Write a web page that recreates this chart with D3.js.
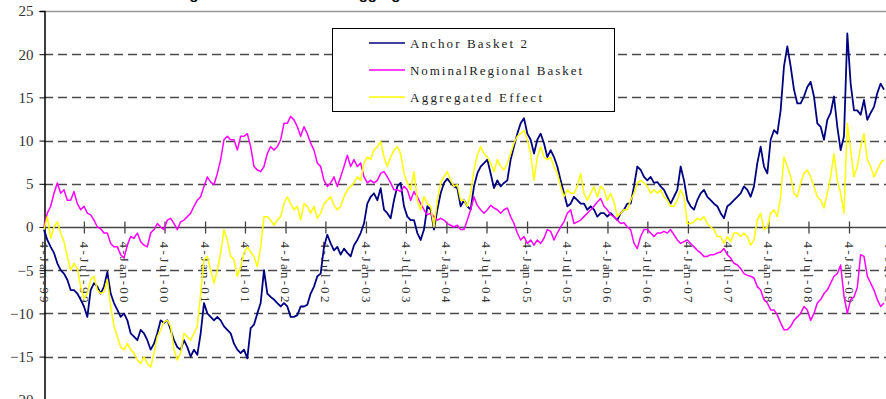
<!DOCTYPE html>
<html>
<head>
<meta charset="utf-8">
<script src="https://cdn.jsdelivr.net/npm/d3@7"></script>
<style>
  body { margin: 0; background: #fff; }
  svg { display: block; }
</style>
</head>
<body>
<div id="chart"></div>
<script>
// sizes of the page and the plot area
var svgWidth = 886;
var svgHeight = 399;
var margin = { top: 11, left: 44 };

// series, one reading every ~15 days from 4-Jan-99
var startDate = Date.UTC(1999, 0, 4);
var sampleDays = 15.126;

var anchorBasket = [
  -0.3,-1.5,-2.3,-3.0,-4.2,-5.0,-5.4,-6.1,-7.3,-7.3,-7.7,-8.4,-9.2,-10.4,-7.3,-6.5,-6.9,-7.7,-6.9,-5.2,-7.7,-8.8,-9.6,-10.4,-10.0,-10.8,-12.3,-12.7,-13.1,-11.9,-12.3,-13.1,-14.2,-13.5,-12.3,-10.8,-11.1,-10.8,-11.9,-13.1,-13.9,-14.2,
  -13.1,-13.9,-15.0,-14.2,-14.8,-12.3,-8.8,-10.0,-10.4,-10.8,-10.4,-10.8,-11.5,-11.9,-12.3,-13.5,-14.2,-14.6,-14.2,-15.2,-11.7,-11.3,-10.0,-8.8,-5.0,-7.7,-8.1,-8.4,-8.8,-9.2,-8.8,-9.2,-10.4,-10.4,-10.2,-9.2,-9.2,-9.0,-7.7,-6.9,-5.7,-5.4,
  -2.3,-0.9,-1.9,-2.7,-2.3,-3.2,-2.5,-3.0,-3.4,-2.1,-1.5,-0.7,0.4,2.7,3.5,3.9,3.1,4.5,2.0,1.6,1.0,3.1,4.7,5.1,2.4,1.2,0.8,0.8,-0.7,-1.5,-0.3,2.4,2.0,-0.3,2.0,3.9,5.1,5.6,5.1,4.7,4.5,2.4,
  3.1,2.4,2.0,4.7,6.2,7.0,7.4,7.8,6.2,4.5,5.4,4.7,5.1,5.4,7.8,9.3,10.8,12.0,12.6,10.8,10.1,8.5,10.1,10.8,9.7,8.1,8.9,8.1,7.0,5.4,3.9,2.4,2.7,3.5,3.1,2.7,2.7,2.0,2.4,2.0,1.2,1.6,
  1.6,1.2,1.6,1.2,0.8,1.6,2.0,2.7,2.7,4.7,7.0,6.6,5.8,5.4,5.8,5.1,5.2,4.7,4.3,3.5,2.7,3.5,4.3,7.0,5.4,3.1,2.4,2.0,3.1,3.9,4.3,3.5,3.1,2.7,2.4,1.6,1.0,2.4,2.7,3.1,3.5,3.9,
  4.7,4.3,3.5,4.7,7.4,9.3,7.0,6.2,10.1,11.2,10.8,13.5,18.6,20.9,18.6,15.9,14.3,14.3,15.1,16.2,16.8,15.1,12.0,11.6,10.1,12.4,13.2,15.1,11.6,8.9,10.5,22.4,16.6,13.5,13.5,13.0,14.7,12.4,13.2,13.9,15.5,16.6,15.9
];

var nominalBasket = [
  0.0,1.6,2.4,3.9,5.1,3.9,4.3,3.1,3.1,4.1,2.7,2.0,2.4,1.6,1.4,0.8,0.0,-0.2,-0.7,-0.7,-1.9,-2.3,-2.3,-3.2,-3.6,-2.1,-1.1,-1.3,-0.7,-1.7,-2.1,-2.3,-0.7,-0.3,0.4,0.0,-0.3,0.8,1.0,0.4,-0.3,0.6,
  0.8,1.2,1.6,2.4,3.1,3.5,4.7,5.8,5.2,4.9,6.2,7.8,10.1,10.5,10.1,10.1,8.9,10.5,10.5,10.8,9.3,7.0,6.6,6.4,7.0,8.5,9.3,8.9,9.3,10.1,12.0,12.0,12.8,12.4,11.6,10.5,11.6,10.8,9.7,8.9,7.4,7.0,
  5.4,4.7,5.1,5.8,4.7,5.8,7.0,8.3,7.0,7.8,7.0,7.4,5.8,5.1,5.4,5.1,5.4,6.2,6.4,5.8,5.1,4.3,4.3,4.1,4.7,4.3,3.1,4.1,3.5,2.7,2.0,1.4,1.6,1.2,0.8,1.0,0.8,0.4,0.2,0.0,0.2,-0.3,
  -0.3,0.8,2.0,3.5,2.5,2.0,1.6,2.0,2.5,2.2,2.0,1.6,2.0,2.2,1.2,0.4,-0.7,-1.5,-1.1,-1.9,-1.5,-2.1,-1.5,-1.9,-1.3,-0.3,-0.5,-1.5,-0.7,0.0,0.6,1.6,2.0,0.4,0.6,0.8,1.2,1.6,2.0,2.4,2.9,3.3,
  2.4,2.0,1.4,1.2,0.8,0.4,0.5,0.0,-0.3,-1.9,-2.5,-1.1,-0.3,-0.3,-0.7,-1.1,-0.7,-0.7,-0.5,-0.7,-0.3,-0.9,-1.5,-1.9,-1.7,-1.5,-1.9,-2.3,-2.7,-3.0,-3.4,-3.4,-3.2,-3.2,-3.0,-2.9,-2.5,-3.2,-3.6,-4.2,-4.4,-4.8,
  -5.4,-5.6,-5.7,-5.9,-6.9,-7.3,-8.4,-8.8,-9.6,-9.6,-10.2,-11.1,-11.9,-11.9,-11.5,-10.8,-10.4,-10.0,-9.2,-9.6,-10.8,-10.0,-8.8,-8.4,-7.7,-7.3,-6.5,-5.7,-5.4,-4.4,-8.0,-10.0,-8.4,-8.1,-7.0,-3.2,-3.4,-5.7,-6.5,-7.3,-8.4,-9.2,-8.8
];

var aggregatedEffect = [
  -0.3,1.2,-1.3,0.0,0.6,-0.7,-1.7,-3.4,-5.0,-4.2,-4.8,-6.9,-8.3,-7.7,-6.1,-5.7,-7.3,-7.7,-7.5,-6.1,-9.2,-11.5,-12.7,-13.9,-14.2,-13.5,-14.2,-14.6,-15.4,-15.8,-15.0,-15.8,-16.2,-14.6,-12.7,-11.9,-11.0,-10.8,-11.5,-14.2,-15.4,-14.6,
  -12.3,-12.7,-13.1,-12.3,-11.5,-7.7,-3.8,-3.4,-5.0,-6.5,-5.0,-3.0,-0.3,-1.5,-3.4,-3.8,-5.7,-4.6,-3.0,-2.3,-2.9,-3.4,-4.6,-2.3,1.2,1.2,0.8,0.2,0.8,1.2,2.7,3.5,2.7,2.0,2.4,0.8,2.7,2.4,1.6,2.4,1.0,1.6,
  2.7,3.1,3.5,2.5,2.0,2.4,3.5,4.3,4.7,5.1,5.8,5.4,7.4,8.1,7.8,8.9,9.3,9.9,8.1,7.0,8.1,8.9,9.3,8.5,6.2,5.1,4.3,6.4,3.1,2.0,3.5,2.7,2.4,0.0,3.1,5.1,5.8,6.4,5.4,4.7,4.9,3.1,
  3.1,2.4,3.9,6.6,8.3,9.3,8.5,8.1,7.4,6.4,7.8,7.0,6.6,7.4,8.5,9.7,10.5,10.8,11.2,10.1,8.5,5.4,8.1,9.3,8.1,7.8,8.1,7.0,6.2,4.7,3.5,4.3,3.9,3.9,4.7,6.2,3.9,3.1,3.9,4.7,3.5,4.7,
  4.3,3.1,3.9,2.9,1.2,1.6,2.0,2.0,3.1,3.9,5.1,5.4,5.1,4.7,3.9,4.3,3.9,4.3,3.5,3.1,2.4,2.4,3.1,4.3,3.5,0.4,0.4,0.6,1.0,0.8,1.2,0.4,0.0,-0.3,-1.1,-1.1,-1.9,-1.1,-1.7,-0.7,-0.7,-1.1,
  -0.7,-1.1,-2.1,-1.5,0.8,1.6,-0.3,0.0,1.6,2.0,1.2,3.5,8.1,7.0,5.8,3.9,3.5,5.1,6.2,6.6,5.8,4.7,3.5,3.1,2.2,3.9,5.8,8.5,5.4,3.9,1.6,12.0,8.9,5.8,7.0,9.3,10.8,7.8,7.0,5.8,6.6,7.4,7.8
];

var seriesNames = ["Anchor Basket 2", "NominalRegional Basket", "Aggregated Effect"];
var seriesColors = ["#000080", "#ff00ff", "#ffff00"];
var seriesValues = [anchorBasket, nominalBasket, aggregatedEffect];

var yTicks = [25, 20, 15, 10, 5, 0, -5, -10, -15, -20];
var tickYears = d3.range(1999, 2010);

// the dates each reading belongs to
var sampleDates = anchorBasket.map(function(d, i) {
  return new Date(startDate + i * sampleDays * 864e5);
});

// x tick dates: 4 Jan and 4 Jul of every year
var tickDates = [];
tickYears.forEach(function(y) {
  tickDates.push(new Date(Date.UTC(y, 0, 4)));
  tickDates.push(new Date(Date.UTC(y, 6, 4)));
});

var svg = d3.select("#chart")
  .append("svg")
  .attr("width", svgWidth)
  .attr("height", svgHeight);

// scales
var xScale = d3.scaleUtc()
  .domain([new Date(Date.UTC(1999, 0, 4)), new Date(Date.UTC(2009, 0, 4))])
  .range([margin.left, 849]);

var yScale = d3.scaleLinear()
  .domain([-20, 25])
  .range([399.8, margin.top]);

// title, only its lower edge is inside the picture
svg.append("text")
  .attr("x", 170)
  .attr("y", -1)
  .attr("text-anchor", "start")
  .style("font-family", "Liberation Sans, Arial, sans-serif")
  .style("font-weight", "bold")
  .style("font-size", "15px")
  .text("Regional Basket and the Aggregated Effect");

// gridlines
var grid = svg.append("g");
yTicks.forEach(function(v) {
  if (v === 0) return;
  var solid = (v === 25 || v === -20);
  grid.append("line")
    .attr("x1", margin.left)
    .attr("x2", svgWidth)
    .attr("y1", Math.round(yScale(v)) + 0.5)
    .attr("y2", Math.round(yScale(v)) + 0.5)
    .attr("stroke", solid ? "#9a9a9a" : "#4a4a4a")
    .attr("stroke-width", 1.3)
    .attr("stroke-dasharray", solid ? null : "9,5");
});

// y axis with labels
var leftAxis = d3.axisLeft(yScale)
  .tickValues(yTicks)
  .tickSize(5)
  .tickPadding(6)
  .tickFormat(function(d) { return d < 0 ? "\u2212" + Math.abs(d) : d; });

var yAxis = svg.append("g")
  .attr("transform", `translate(${margin.left + 0.5}, 0)`)
  .call(leftAxis);
yAxis.select(".domain").attr("stroke", "#000").attr("stroke-width", 1.5);
yAxis.selectAll(".tick line").attr("stroke", "#000");
yAxis.selectAll("text")
  .style("font-family", "Liberation Serif, Times New Roman, serif")
  .style("font-size", "15px")
  .attr("fill", "#333");

// x axis sits on zero
var zeroY = Math.round(yScale(0)) + 0.5;
var bottomAxis = d3.axisBottom(xScale)
  .tickValues(tickDates)
  .tickSizeInner(5)
  .tickSizeOuter(0)
  .tickFormat(d3.utcFormat("%-d-%b-%y"));

var xAxis = svg.append("g")
  .attr("transform", `translate(0, ${zeroY})`)
  .call(bottomAxis);
xAxis.select(".domain").remove();
xAxis.append("line")
  .attr("x1", margin.left)
  .attr("x2", svgWidth)
  .attr("stroke", "#444")
  .attr("stroke-width", 1.3);
xAxis.selectAll(".tick line")
  .attr("y1", -6)
  .attr("y2", 6)
  .attr("stroke", "#444")
  .attr("stroke-width", 1.3);
xAxis.selectAll(".tick text")
  .attr("transform", "rotate(90)")
  .attr("x", 14)
  .attr("y", 0)
  .attr("dy", "0.35em")
  .attr("text-anchor", "start")
  .attr("textLength", 61)
  .attr("lengthAdjust", "spacing")
  .style("font-family", "Liberation Serif, Times New Roman, serif")
  .style("font-size", "13px")
  .attr("fill", "#333");

// the three lines
var line = d3.line()
  .x(function(d, i) { return xScale(sampleDates[i]); })
  .y(function(d) { return yScale(d); });

seriesValues.forEach(function(vals, k) {
  svg.append("path")
    .datum(vals)
    .attr("fill", "none")
    .attr("stroke", seriesColors[k])
    .attr("stroke-width", k === 0 ? 1.8 : 1.5)
    .attr("stroke-linejoin", "round")
    .attr("d", line);
});

// legend box
var legend = svg.append("g");
legend.append("rect")
  .attr("x", 332.5)
  .attr("y", 28.5)
  .attr("width", 282)
  .attr("height", 83)
  .attr("fill", "#fff")
  .attr("stroke", "#000")
  .attr("stroke-width", 1);

var legendY = [43, 70, 97];
var legendLen = [117, 172, 132];
seriesNames.forEach(function(name, k) {
  legend.append("line")
    .attr("x1", 369)
    .attr("x2", 405)
    .attr("y1", legendY[k])
    .attr("y2", legendY[k])
    .attr("stroke", seriesColors[k])
    .attr("stroke-width", 1.5);
  legend.append("text")
    .attr("x", 410)
    .attr("y", legendY[k])
    .attr("dy", "0.35em")
    .attr("textLength", legendLen[k])
    .attr("lengthAdjust", "spacing")
    .style("font-family", "Liberation Serif, Times New Roman, serif")
    .style("font-size", "13px")
    .attr("fill", "#222")
    .text(name);
});
</script>
</body>
</html>
